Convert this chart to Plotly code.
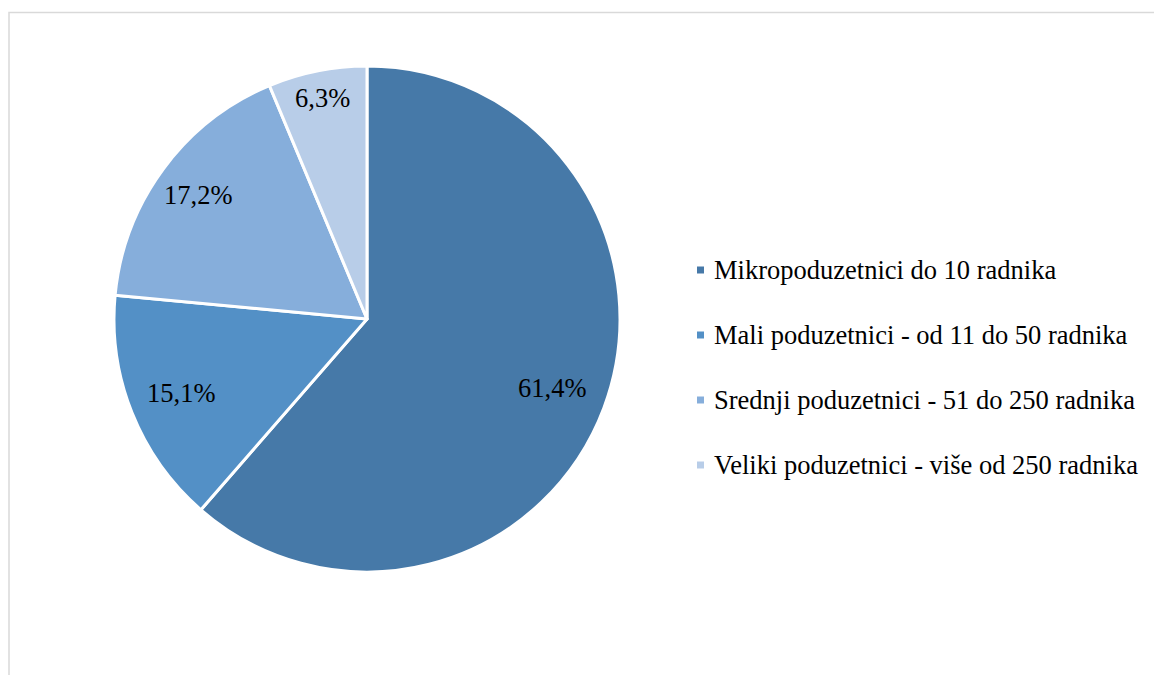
import math
import plotly.graph_objects as go

labels = ["Mikropoduzetnici do 10 radnika",
          "Mali poduzetnici - od 11 do 50 radnika",
          "Srednji poduzetnici - 51 do 250 radnika",
          "Veliki poduzetnici - više od 250 radnika"]
values = [61.4, 15.1, 17.2, 6.3]
text_labels = ["61,4%", "15,1%", "17,2%", "6,3%"]
colors = ["#4679A8", "#5390C6", "#86AEDB", "#B8CDE8"]
label_radius = [0.78, 0.79, 0.83, 0.89]

W, H = 1162, 675
FONT = "Liberation Serif"
FS = 26.5

# pie geometry (figure pixels; page adds 8px body margin)
CX, CY, R = 359, 311, 253

fig = go.Figure()
fig.add_trace(go.Pie(
    labels=labels, values=values,
    textinfo="none",
    marker=dict(colors=colors, line=dict(color="white", width=3)),
    sort=False, direction="clockwise", rotation=0,
    domain=dict(x=[(CX - R) / W, (CX + R) / W], y=[(H - CY - R) / H, (H - CY + R) / H]),
    showlegend=False, hoverinfo="label+percent",
))

shapes = []
annotations = []

# slice labels positioned at mid-angle of each slice
total = sum(values)
cum = 0.0
for v, t, f in zip(values, text_labels, label_radius):
    mid = (cum + v / 2) / total * 2 * math.pi
    cum += v
    px = CX + f * R * math.sin(mid)
    py = CY - f * R * math.cos(mid)
    annotations.append(dict(x=px / W, y=(H - py) / H, xref="paper", yref="paper",
                            xanchor="center", yanchor="middle", showarrow=False,
                            text=t, font=dict(family=FONT, size=FS, color="black")))

# Legend drawn manually
y0, dy = 262, 65
for i, (lab, col) in enumerate(zip(labels, colors)):
    yc = y0 + i * dy
    shapes.append(dict(type="rect", xref="paper", yref="paper",
                       x0=689 / W, x1=696 / W,
                       y0=(H - yc - 3.5) / H, y1=(H - yc + 3.5) / H,
                       fillcolor=col, line=dict(width=0)))
    annotations.append(dict(x=704 / W, y=(H - yc) / H, xref="paper", yref="paper",
                            xanchor="left", yanchor="middle", showarrow=False,
                            text=lab, font=dict(family=FONT, size=FS, color="black")))

# Chart border
shapes.append(dict(type="rect", xref="paper", yref="paper",
                   x0=1 / W, x1=1.02, y0=-0.02, y1=(H - 4.5) / H,
                   line=dict(color="#D9D9D9", width=1.5), fillcolor="rgba(0,0,0,0)"))

fig.update_layout(
    width=W, height=H,
    margin=dict(l=0, r=0, t=0, b=0),
    paper_bgcolor="white", plot_bgcolor="white",
    shapes=shapes, annotations=annotations,
)
fig.write_html("out.html")
